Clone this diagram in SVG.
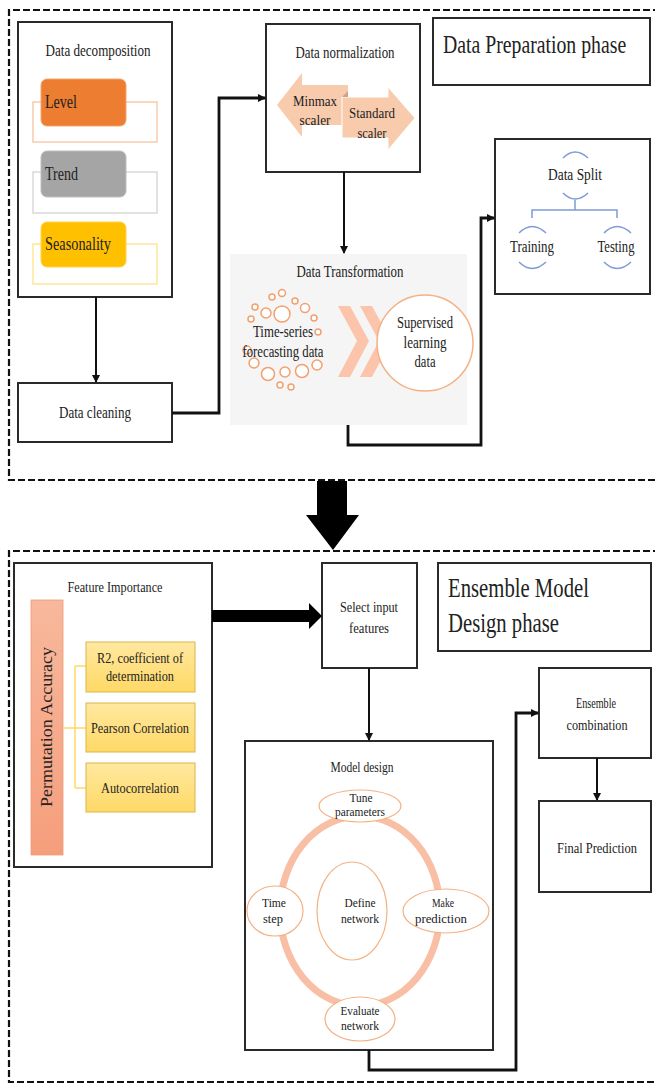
<svg xmlns="http://www.w3.org/2000/svg" width="655" height="1085" viewBox="0 0 655 1085">
<style>
text{font-family:"Liberation Serif","Times New Roman",serif;fill:#222;}
.c{text-anchor:middle;}
.box{fill:#fff;stroke:#2a2a2a;stroke-width:2;}
.dash{fill:none;stroke:#111;stroke-width:2.2;stroke-dasharray:7 3;}
.con{fill:none;stroke:#111;stroke-width:2;}
.conb{fill:none;stroke:#111;stroke-width:2.8;}
.ts{fill:#fff;stroke:#F2A16E;stroke-width:1.5;}
.split{fill:none;stroke:#7E9BD6;stroke-width:1.5;}
.ybox{fill:url(#yg);stroke:#D9B54C;stroke-width:1;}
.ell{fill:#fff;stroke:#F4B183;stroke-width:1.2;}
</style>
<defs>
<marker id="ah" markerWidth="8" markerHeight="8" refX="7" refY="4" orient="auto" markerUnits="userSpaceOnUse">
<path d="M0,0 L8,4 L0,8 Z" fill="#111"/>
</marker>
<linearGradient id="yg" x1="0" y1="0" x2="0" y2="1">
<stop offset="0" stop-color="#FFE8A0"/>
<stop offset="1" stop-color="#FFD966"/>
</linearGradient>
<linearGradient id="pg" x1="0" y1="0" x2="0" y2="1">
<stop offset="0" stop-color="#F8B89C"/>
<stop offset="1" stop-color="#F59E7C"/>
</linearGradient>
</defs>

<!-- phase borders -->
<g id="phase-borders">
<path class="dash" d="M660,10 L9,10 L9,480 L660,480"/>
<path class="dash" d="M660,551 L9,551 L9,1082 L660,1082"/>
</g>

<g id="data-decomposition">
<rect class="box" x="18" y="22" width="154" height="275"/>
<text class="c" x="98" y="56" font-size="16" textLength="105" lengthAdjust="spacingAndGlyphs">Data decomposition</text>
<rect x="33" y="102" width="124" height="40" fill="#fff" stroke="#F8CBAD" stroke-width="1.5"/>
<rect x="41" y="79" width="85" height="47" rx="6" fill="#ED7D31" stroke="#F4A56E" stroke-width="1"/>
<text x="45" y="108" font-size="18" textLength="32" lengthAdjust="spacingAndGlyphs">Level</text>
<rect x="33" y="172" width="124" height="41" fill="#fff" stroke="#D9D9D9" stroke-width="1.5"/>
<rect x="41" y="151" width="85" height="46" rx="6" fill="#A5A5A5" stroke="#BFBFBF" stroke-width="1"/>
<text x="45" y="180" font-size="18" textLength="33" lengthAdjust="spacingAndGlyphs">Trend</text>
<rect x="33" y="244" width="124" height="40" fill="#fff" stroke="#FFE699" stroke-width="1.5"/>
<rect x="41" y="222" width="85" height="45" rx="6" fill="#FFC000" stroke="#FFD24D" stroke-width="1"/>
<text x="45" y="250" font-size="18" textLength="66" lengthAdjust="spacingAndGlyphs">Seasonality</text>
</g>

<g id="data-cleaning">
<rect class="box" x="18" y="383" width="154" height="59"/>
<text class="c" x="95" y="418" font-size="16" textLength="72" lengthAdjust="spacingAndGlyphs">Data cleaning</text>
</g>

<g id="data-normalization">
<rect class="box" x="266" y="24" width="154" height="148"/>
<text class="c" x="345" y="58" font-size="16" textLength="99" lengthAdjust="spacingAndGlyphs">Data normalization</text>
<path d="M277,105 L302,73 L302,85 L348,85 L348,125 L302,125 L302,137 Z" fill="#F8CBAD"/>
<path d="M415,118 L388,87 L388,97 L342,97 L342,138 L388,138 L388,150 Z" fill="#F8CBAD" stroke="#fff" stroke-width="1"/>
<path d="M342,97 L348,91 L348,97 Z" fill="#C9A58C"/>
<text class="c" x="315" y="106" font-size="15" textLength="44" lengthAdjust="spacingAndGlyphs">Minmax</text>
<text class="c" x="315" y="125" font-size="15" textLength="31" lengthAdjust="spacingAndGlyphs">scaler</text>
<text class="c" x="372" y="118" font-size="15" textLength="46" lengthAdjust="spacingAndGlyphs">Standard</text>
<text class="c" x="372" y="138" font-size="15" textLength="29" lengthAdjust="spacingAndGlyphs">scaler</text>
</g>

<g id="data-preparation-title">
<rect class="box" x="433" y="18" width="217" height="67"/>
<text transform="translate(443,53) scale(0.76,1)" x="0" y="0" font-size="26">Data Preparation phase</text>
</g>

<g id="data-split">
<rect class="box" x="495" y="139" width="155" height="155"/>
<path class="split" d="M563,158 Q575,146 588,158"/>
<path class="split" d="M563,193 Q575,205 588,193"/>
<text class="c" x="575" y="180" font-size="16" textLength="54" lengthAdjust="spacingAndGlyphs">Data Split</text>
<path class="split" d="M575,200 L575,210 M532,218 L532,210 L617,210 L617,218"/>
<path class="split" d="M519,233 Q532,220 546,233"/>
<path class="split" d="M519,262 Q532,275 546,262"/>
<path class="split" d="M604,233 Q617,220 631,233"/>
<path class="split" d="M604,262 Q617,275 631,262"/>
<text class="c" x="532" y="252" font-size="16" textLength="44" lengthAdjust="spacingAndGlyphs">Training</text>
<text class="c" x="616" y="252" font-size="16" textLength="37" lengthAdjust="spacingAndGlyphs">Testing</text>
</g>

<g id="data-transformation">
<rect x="230" y="254" width="237" height="171" fill="#F5F5F5"/>
<text class="c" x="350" y="277" font-size="16" textLength="107" lengthAdjust="spacingAndGlyphs">Data Transformation</text>
<circle class="ts" cx="255" cy="307" r="3"/>
<circle class="ts" cx="272" cy="297" r="3"/>
<circle class="ts" cx="282" cy="293" r="3.5"/>
<circle class="ts" cx="295" cy="301" r="3"/>
<circle class="ts" cx="305" cy="308" r="4.5"/>
<circle class="ts" cx="266" cy="313" r="5"/>
<circle class="ts" cx="282" cy="314" r="8"/>
<circle class="ts" cx="251" cy="319" r="3"/>
<circle class="ts" cx="314" cy="318" r="3"/>
<circle class="ts" cx="318" cy="332" r="3"/>
<circle class="ts" cx="247" cy="350" r="4"/>
<circle class="ts" cx="254" cy="363" r="5"/>
<circle class="ts" cx="268" cy="374" r="6.5"/>
<circle class="ts" cx="285" cy="372" r="5"/>
<circle class="ts" cx="302" cy="371" r="6.5"/>
<circle class="ts" cx="317" cy="365" r="5"/>
<circle class="ts" cx="280" cy="385" r="3"/>
<circle class="ts" cx="291" cy="387" r="3"/>
<text class="c" x="283" y="337" font-size="16" textLength="60" lengthAdjust="spacingAndGlyphs">Time-series</text>
<text class="c" x="283" y="357" font-size="16" textLength="81" lengthAdjust="spacingAndGlyphs">forecasting data</text>
<path d="M338,306 L350,306 L369,341 L350,377 L338,377 L357,341 Z" fill="#FBC4AB"/>
<path d="M360,306 L372,306 L391,341 L372,377 L360,377 L379,341 Z" fill="#FBC4AB"/>
<circle cx="425" cy="343" r="48" fill="#fff" stroke="#F4B183" stroke-width="1.5"/>
<text class="c" x="425" y="328" font-size="16" textLength="56" lengthAdjust="spacingAndGlyphs">Supervised</text>
<text class="c" x="425" y="348" font-size="16" textLength="43" lengthAdjust="spacingAndGlyphs">learning</text>
<text class="c" x="425" y="367" font-size="16" textLength="21" lengthAdjust="spacingAndGlyphs">data</text>
</g>

<g id="feature-importance">
<rect class="box" x="14" y="563" width="198" height="304"/>
<text class="c" x="115" y="592" font-size="15" textLength="95" lengthAdjust="spacingAndGlyphs">Feature Importance</text>
<rect x="31" y="600" width="32" height="255" fill="url(#pg)" stroke="#EE9A78" stroke-width="0.8"/>
<text class="c" transform="translate(52,727) rotate(-90)" x="0" y="0" font-size="16" textLength="160" lengthAdjust="spacingAndGlyphs">Permutation Accuracy</text>
<path d="M63,728 L75,728 M75,666 L75,788 M75,666 L86,666 M75,728 L86,728 M75,788 L86,788" fill="none" stroke="#FFD966" stroke-width="1.5"/>
<rect class="ybox" x="86" y="642" width="109" height="50"/>
<rect class="ybox" x="86" y="703" width="109" height="49"/>
<rect class="ybox" x="86" y="763" width="109" height="49"/>
<text class="c" x="140" y="663" font-size="15" textLength="86" lengthAdjust="spacingAndGlyphs">R2, coefficient of</text>
<text class="c" x="140" y="681" font-size="15" textLength="68" lengthAdjust="spacingAndGlyphs">determination</text>
<text class="c" x="140" y="733" font-size="15" textLength="98" lengthAdjust="spacingAndGlyphs">Pearson Correlation</text>
<text class="c" x="140" y="793" font-size="15" textLength="78" lengthAdjust="spacingAndGlyphs">Autocorrelation</text>
</g>

<g id="select-input-features">
<rect class="box" x="322" y="563" width="95" height="105"/>
<text class="c" x="369" y="612" font-size="15" textLength="58" lengthAdjust="spacingAndGlyphs">Select input</text>
<text class="c" x="369" y="633" font-size="15" textLength="40" lengthAdjust="spacingAndGlyphs">features</text>
</g>

<g id="ensemble-title">
<rect class="box" x="438" y="563" width="213" height="88"/>
<text transform="translate(448,597) scale(0.74,1)" x="0" y="0" font-size="28">Ensemble Model</text>
<text transform="translate(448,632) scale(0.74,1)" x="0" y="0" font-size="28">Design phase</text>
</g>

<g id="model-design">
<rect class="box" x="245" y="741" width="248" height="309"/>
<text class="c" x="362" y="772" font-size="14" textLength="63" lengthAdjust="spacingAndGlyphs">Model design</text>
<ellipse cx="360" cy="911" rx="80" ry="95" fill="none" stroke="#F8BFA5" stroke-width="7"/>
<ellipse class="ell" cx="352" cy="911" rx="35" ry="49"/>
<text class="c" x="360" y="907" font-size="13" textLength="31" lengthAdjust="spacingAndGlyphs">Define</text>
<text class="c" x="360" y="923" font-size="13" textLength="38" lengthAdjust="spacingAndGlyphs">network</text>
<ellipse class="ell" cx="360" cy="806" rx="41" ry="16"/>
<text class="c" x="361" y="802" font-size="13" textLength="23" lengthAdjust="spacingAndGlyphs">Tune</text>
<text class="c" x="360" y="816" font-size="13" textLength="50" lengthAdjust="spacingAndGlyphs">parameters</text>
<ellipse class="ell" cx="275" cy="911" rx="28" ry="25"/>
<text class="c" x="274" y="907" font-size="13" textLength="24" lengthAdjust="spacingAndGlyphs">Time</text>
<text class="c" x="273" y="923" font-size="13" textLength="20" lengthAdjust="spacingAndGlyphs">step</text>
<ellipse class="ell" cx="446" cy="911" rx="43" ry="22"/>
<text class="c" x="443" y="907" font-size="13" textLength="22" lengthAdjust="spacingAndGlyphs">Make</text>
<text class="c" x="441" y="923" font-size="13" textLength="52" lengthAdjust="spacingAndGlyphs">prediction</text>
<ellipse class="ell" cx="360" cy="1019" rx="35" ry="22"/>
<text class="c" x="360" y="1015" font-size="13" textLength="39" lengthAdjust="spacingAndGlyphs">Evaluate</text>
<text class="c" x="360" y="1030" font-size="13" textLength="38" lengthAdjust="spacingAndGlyphs">network</text>
</g>

<g id="ensemble-combination">
<rect class="box" x="539" y="668" width="112" height="90"/>
<text class="c" x="596" y="708" font-size="15" textLength="40" lengthAdjust="spacingAndGlyphs">Ensemble</text>
<text class="c" x="597" y="730" font-size="15" textLength="61" lengthAdjust="spacingAndGlyphs">combination</text>
</g>

<g id="final-prediction">
<rect class="box" x="539" y="801" width="112" height="91"/>
<text class="c" x="597" y="853" font-size="15" textLength="80" lengthAdjust="spacingAndGlyphs">Final Prediction</text>
</g>

<g id="connectors">
<path class="con" d="M96,297 L96,382" marker-end="url(#ah)"/>
<path class="conb" d="M172,413 L219,413 L219,98 L265,98" marker-end="url(#ah)"/>
<path class="con" d="M344,172 L344,253" marker-end="url(#ah)"/>
<path class="conb" d="M348,425 L348,445 L481,445 L481,218 L494,218" marker-end="url(#ah)"/>
<path d="M317,481 L347,481 L347,515 L359,515 L333,550 L306,515 L317,515 Z" fill="#000"/>
<path d="M212,610 L309,610 L309,603 L322,616 L309,629 L309,622 L212,622 Z" fill="#000"/>
<path class="con" d="M369,668 L369,740" marker-end="url(#ah)"/>
<path class="conb" d="M369,1050 L369,1070 L516,1070 L516,713 L538,713" marker-end="url(#ah)"/>
<path class="con" d="M597,758 L597,800" marker-end="url(#ah)"/>
</g>
</svg>
